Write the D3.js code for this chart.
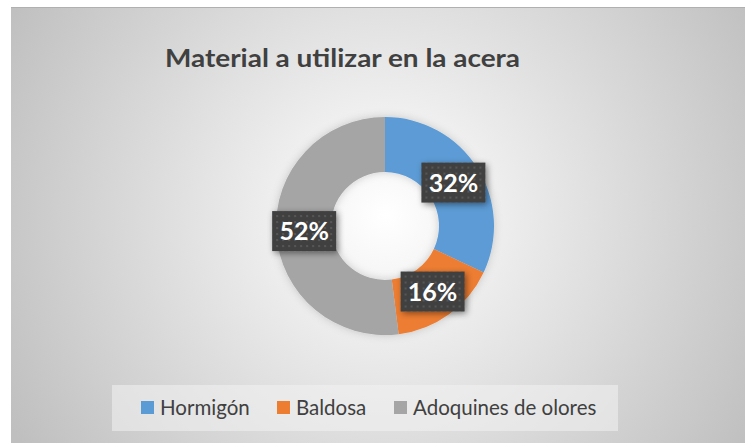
<!DOCTYPE html>
<html>
<head>
<meta charset="utf-8">
<script src="https://cdn.jsdelivr.net/npm/d3@7"></script>
<style>
  body { margin: 0; background: #fff; }
  svg { display: block; }
</style>
</head>
<body>
<div id="chart"></div>
<script>
var categories = ["Hormigón", "Baldosa", "Adoquines de olores"];
var values = [32, 16, 52];
var colors = ["#5b9bd5", "#ed7d31", "#a5a5a5"];
var title = "Material a utilizar en la acera";

var width = 745, height = 443;

var svg = d3.select("#chart").append("svg")
    .attr("width", width)
    .attr("height", height);

var defs = svg.append("defs");

// background gradient
var bg = defs.append("radialGradient")
    .attr("id", "bg")
    .attr("gradientUnits", "userSpaceOnUse")
    .attr("cx", 385).attr("cy", 215).attr("r", 430);
bg.append("stop").attr("offset", "0%").attr("stop-color", "#ffffff");
bg.append("stop").attr("offset", "100%").attr("stop-color", "#bfbfbf");

// dotted label background
var pat = defs.append("pattern")
    .attr("id", "dots")
    .attr("patternUnits", "userSpaceOnUse")
    .attr("width", 6).attr("height", 6);
pat.append("rect").attr("width", 6).attr("height", 6).attr("fill", "#404040");
pat.append("rect").attr("x", 2).attr("y", 2).attr("width", 2).attr("height", 2).attr("fill", "#575757");

var shadow = defs.append("filter").attr("id", "shadow")
    .attr("x", "-30%").attr("y", "-30%").attr("width", "160%").attr("height", "160%");
shadow.append("feDropShadow")
    .attr("dx", 2).attr("dy", 2).attr("stdDeviation", 3)
    .attr("flood-color", "#000").attr("flood-opacity", 0.45);

var soft = defs.append("filter").attr("id", "soft")
    .attr("x", "-20%").attr("y", "-20%").attr("width", "140%").attr("height", "140%");
soft.append("feDropShadow")
    .attr("dx", 0).attr("dy", 0).attr("stdDeviation", 4)
    .attr("flood-color", "#000").attr("flood-opacity", 0.18);

svg.append("rect")
    .attr("x", 11).attr("y", 7)
    .attr("width", width - 11).attr("height", height - 7)
    .attr("fill", "url(#bg)");
svg.append("line")
    .attr("x1", 11).attr("x2", width).attr("y1", 7.5).attr("y2", 7.5)
    .attr("stroke", "#b0b0b0");

// title
svg.append("text")
    .attr("x", 165).attr("y", 67)
    .attr("textLength", 355)
    .attr("lengthAdjust", "spacingAndGlyphs")
    .style("font-family", "Lato, 'Open Sans', sans-serif")
    .style("font-weight", "bold")
    .style("font-size", "24px")
    .style("fill", "#404040")
    .text(title);

// donut
var cx = 385, cy = 226, outerR = 109, innerR = 54;

var pie = d3.pie().sort(null).value(function(d) { return d; });
var arcs = pie(values);

var arc = d3.arc().innerRadius(innerR).outerRadius(outerR);
var labelArc = d3.arc().innerRadius(81).outerRadius(81);

var g = svg.append("g")
    .attr("transform", "translate(" + cx + "," + cy + ")");

g.append("g").attr("filter", "url(#soft)")
  .selectAll("path")
    .data(arcs)
  .enter().append("path")
    .attr("d", arc)
    .attr("fill", function(d, i) { return colors[i]; });

var total = d3.sum(values);
var lbl = g.selectAll(".lbl")
    .data(arcs)
  .enter().append("g")
    .attr("class", "lbl")
    .attr("transform", function(d) {
      var c = labelArc.centroid(d);
      return "translate(" + c[0] + "," + c[1] + ")";
    });

lbl.append("rect")
    .attr("x", -32).attr("y", -20)
    .attr("width", 64).attr("height", 40)
    .attr("fill", "url(#dots)")
    .attr("filter", "url(#shadow)");

lbl.append("text")
    .attr("text-anchor", "middle")
    .attr("dy", "0.36em")
    .style("font-family", "Lato, 'Open Sans', sans-serif")
    .style("font-weight", "bold")
    .style("font-size", "25px")
    .style("fill", "#fff")
    .text(function(d) { return Math.round(d.value / total * 100) + "%"; });

// legend
svg.append("rect")
    .attr("x", 112).attr("y", 385)
    .attr("width", 506).attr("height", 46)
    .attr("fill", "#f2f2f2").attr("fill-opacity", 0.55);

var legendX = [141, 277, 394];
var leg = svg.selectAll(".leg")
    .data(categories)
  .enter().append("g")
    .attr("class", "leg")
    .attr("transform", function(d, i) { return "translate(" + legendX[i] + ",408)"; });

leg.append("rect")
    .attr("x", 0).attr("y", -7)
    .attr("width", 13).attr("height", 13)
    .attr("fill", function(d, i) { return colors[i]; });

leg.append("text")
    .attr("x", 19).attr("dy", "0.35em")
    .style("font-family", "Lato, 'Open Sans', sans-serif")
    .style("font-size", "20.5px")
    .style("fill", "#404040")
    .text(function(d) { return d; });
</script>
</body>
</html>
